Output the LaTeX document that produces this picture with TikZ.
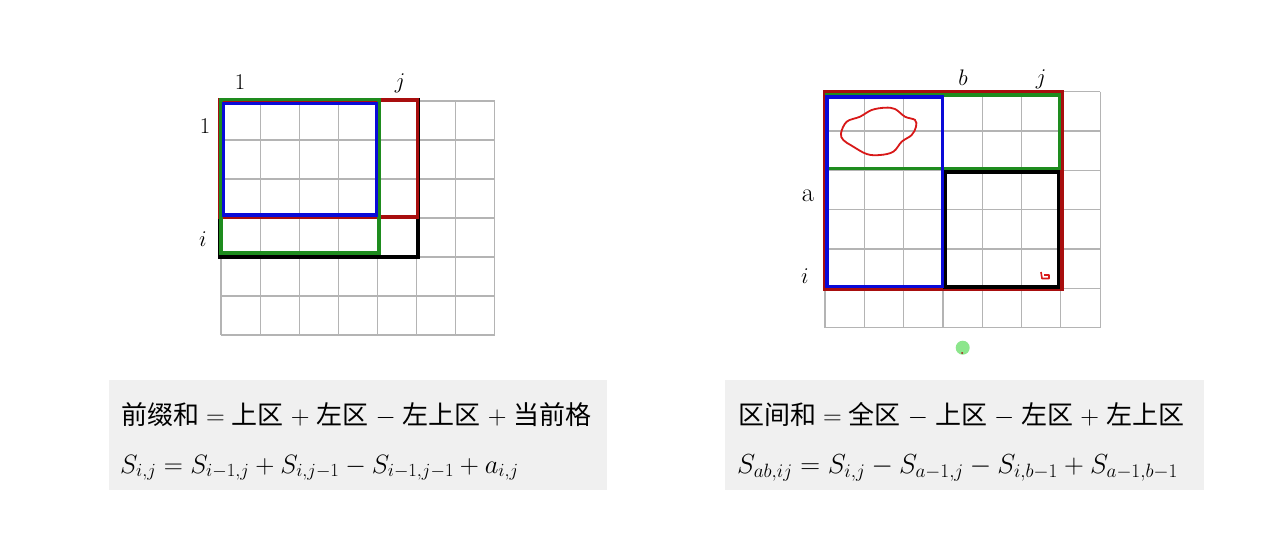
\documentclass[tikz,border=0pt]{standalone}
\usepackage{fix-cm}
\usepackage{fontspec}
\newfontfamily\cjk{Noto Sans CJK SC}
\definecolor{gridgray}{HTML}{B4B4B4}
\definecolor{dred}{HTML}{A80E0E}
\definecolor{dgreen}{HTML}{1E8C1E}
\definecolor{dblue}{HTML}{0A0AD8}
\definecolor{boxgray}{HTML}{F0F0F0}
\definecolor{inkred}{HTML}{D81818}
\definecolor{dotgreen}{HTML}{8CE68C}
\tikzset{
  gridline/.style={draw=gridgray, line width=1.2pt},
  rect/.style={line width=3.6pt},
  lab/.style={font=\fontsize{22.5}{26}\selectfont, inner sep=0pt, anchor=base},
  fbox/.style={fill=boxgray, draw=none, inner sep=0pt, anchor=north west},
  ftext/.style={anchor=base west, inner sep=0pt, font=\fontsize{26}{30}\selectfont},
}
\newcommand{\opsp}[1]{\hspace{7pt}$#1$\hspace{7pt}}
\begin{document}
\begin{tikzpicture}[x=1pt,y=-1pt]
\useasboundingbox (0,0) rectangle (1262,542);
\fill[white] (0,0) rectangle (1262,542);

% ---------- left grid ----------
\foreach \k in {0,...,7} \draw[gridline] (221+\k*39.1,101) -- (221+\k*39.1,335);
\foreach \k in {0,...,6} \draw[gridline] (221,101+\k*39) -- (494.7,101+\k*39);
\draw[rect, black] (219.5,100) rectangle (418,257);
\draw[rect, dred] (220,100) rectangle (417.5,217);
\draw[rect, dgreen] (221,99.5) rectangle (379,253);
\draw[rect, dblue] (223.5,103.5) rectangle (376.5,215);

\node[lab] (l1top) at (240,89) {1};
\node[lab] (ljtop) at (400,88) {$j$};
\node[lab] (l1left) at (205,133) {1};
\node[lab] (lileft) at (203,246.5) {$i$};

% ---------- right grid ----------
\foreach \k in {0,...,7} \draw[gridline] (825+\k*39.3,91.7) -- (825+\k*39.3,327.5);
\foreach \k in {0,...,6} \draw[gridline] (825,91.7+\k*39.3) -- (1100.1,91.7+\k*39.3);
\draw[rect, dred] (825,92) rectangle (1062,289);
\draw[rect, dgreen] (826.5,95) rectangle (1059.5,168.5);
\draw[rect, black] (945,172) rectangle (1058.5,287);
\draw[rect, dblue] (827,97) rectangle (942.5,286.5);

\draw[inkred, line width=1.8pt] plot[smooth cycle, tension=0.6] coordinates {
  (841,133.3) (846.7,121.7) (860,116.7) (871.7,110) (885,107.7) (895,109)
  (905,116.7) (915,120) (916,126.7) (911.7,135) (901.7,141.7) (893.3,151.7)
  (880,155) (866.7,154) (851.7,145.7) (843.3,140)};
\draw[inkred, line width=1.6pt, line join=round] (1041,272) -- (1042,278.5) -- (1049,278.5) -- (1049,275) -- (1044,275);
\fill[dotgreen] (962.7,347.7) circle (7);
\fill[dred] (962,353) circle (1);

\node[lab] (rb) at (963,85.5) {$b$};
\node[lab] (rj) at (1041,84) {$j$};
\node[lab, font=\fontsize{26.5}{30}\selectfont] (ra) at (808,201) {a};
\node[lab] (ri) at (805,283) {$i$};

% ---------- formula boxes ----------
\node[fbox, minimum width=498.4pt, minimum height=109.3pt] (boxL) at (108.3,380) {};
\node[ftext] (fl1) at (121,424) {\cjk 前缀和\opsp{=}上区\opsp{+}左区\opsp{-}左上区\opsp{+}当前格};
\node[ftext, font=\fontsize{26.5}{30}\selectfont] (fl2) at (120,473) {$S_{i,j} = S_{i-1,j} + S_{i,j-1} - S_{i-1,j-1} + a_{i,j}$};

\node[fbox, minimum width=478.3pt, minimum height=110pt] (boxR) at (725,379.3) {};
\node[ftext] (fr1) at (738,424) {\cjk 区间和\opsp{=}全区\opsp{-}上区\opsp{-}左区\opsp{+}左上区};
\node[ftext, font=\fontsize{27.5}{31}\selectfont] (fr2) at (737,473) {$S_{ab,ij} = S_{i,j} - S_{a-1,j} - S_{i,b-1} + S_{a-1,b-1}$};
\end{tikzpicture}
\end{document}
